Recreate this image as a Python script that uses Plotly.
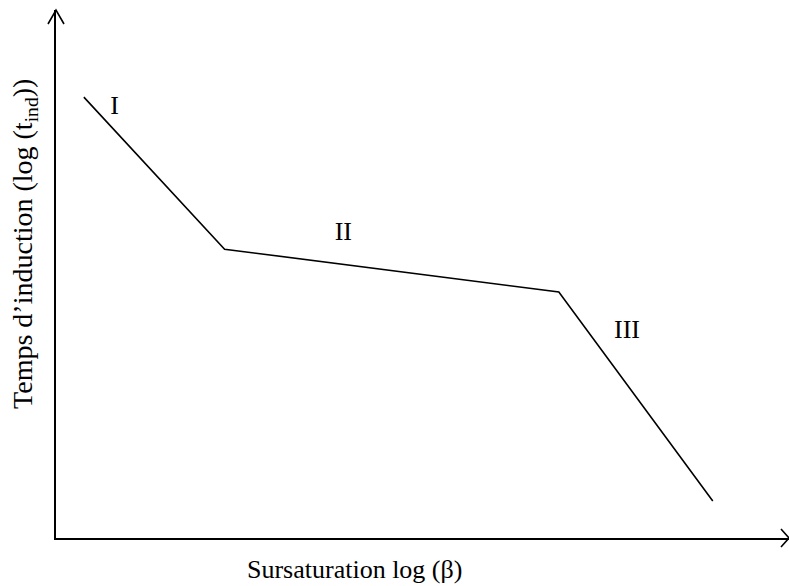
import plotly.graph_objects as go

# Data (arbitrary log units)
x_vals = [0.38, 2.30, 6.86, 8.96]
y_vals = [8.35, 5.47, 4.66, 0.70]

region_labels = ["I", "II", "III"]
label_x = [0.80, 3.92, 7.79]
label_y = [8.16, 5.76, 3.92]

x_title = "Sursaturation log (β)"
y_title = "Temps d’induction (log (t<sub>ind</sub>))"

FONT = "Liberation Serif, Times New Roman, serif"

fig = go.Figure()
fig.add_trace(go.Scatter(
    x=x_vals, y=y_vals, mode="lines",
    line=dict(color="black", width=1.6),
    hoverinfo="skip", showlegend=False, cliponaxis=False,
))
fig.add_trace(go.Scatter(
    x=label_x, y=label_y, mode="text", text=region_labels,
    textposition="middle center",
    textfont=dict(family=FONT, size=26, color="black"),
    hoverinfo="skip", showlegend=False, cliponaxis=False,
))

axis_common = dict(showgrid=False, zeroline=False, showticklabels=False,
                   ticks="", showline=True, linecolor="black", linewidth=2,
                   fixedrange=True)
fig.update_xaxes(range=[0, 10], **axis_common)
fig.update_yaxes(range=[0, 10], **axis_common)

# Arrow heads at the ends of the axes
fig.add_shape(type="path", xref="paper", yref="paper",
              xsizemode="pixel", ysizemode="pixel", xanchor=0, yanchor=1,
              path="M -8,-14 L 0,0 L 8,-14",
              line=dict(color="black", width=1.6))
fig.add_shape(type="path", xref="paper", yref="paper",
              xsizemode="pixel", ysizemode="pixel", xanchor=1, yanchor=0,
              path="M -8,9 L 0,0 L -8,-9",
              line=dict(color="black", width=1.6))

fig.add_annotation(text=x_title, xref="paper", yref="paper",
                   x=0.4066, y=-0.0606, xanchor="center", yanchor="middle",
                   showarrow=False, font=dict(family=FONT, size=26, color="black"))
fig.add_annotation(text=y_title, xref="paper", yref="paper",
                   x=-0.0423, y=0.557, xanchor="center", yanchor="middle",
                   textangle=-90, showarrow=False,
                   font=dict(family=FONT, size=28, color="black"))

fig.update_layout(
    width=789, height=586,
    margin=dict(l=56, r=0, t=10, b=48),
    paper_bgcolor="white", plot_bgcolor="white",
)

fig.write_html("out.html", config={"displayModeBar": False},
               post_script="document.body.style.margin='0';document.body.style.overflow='hidden';")
